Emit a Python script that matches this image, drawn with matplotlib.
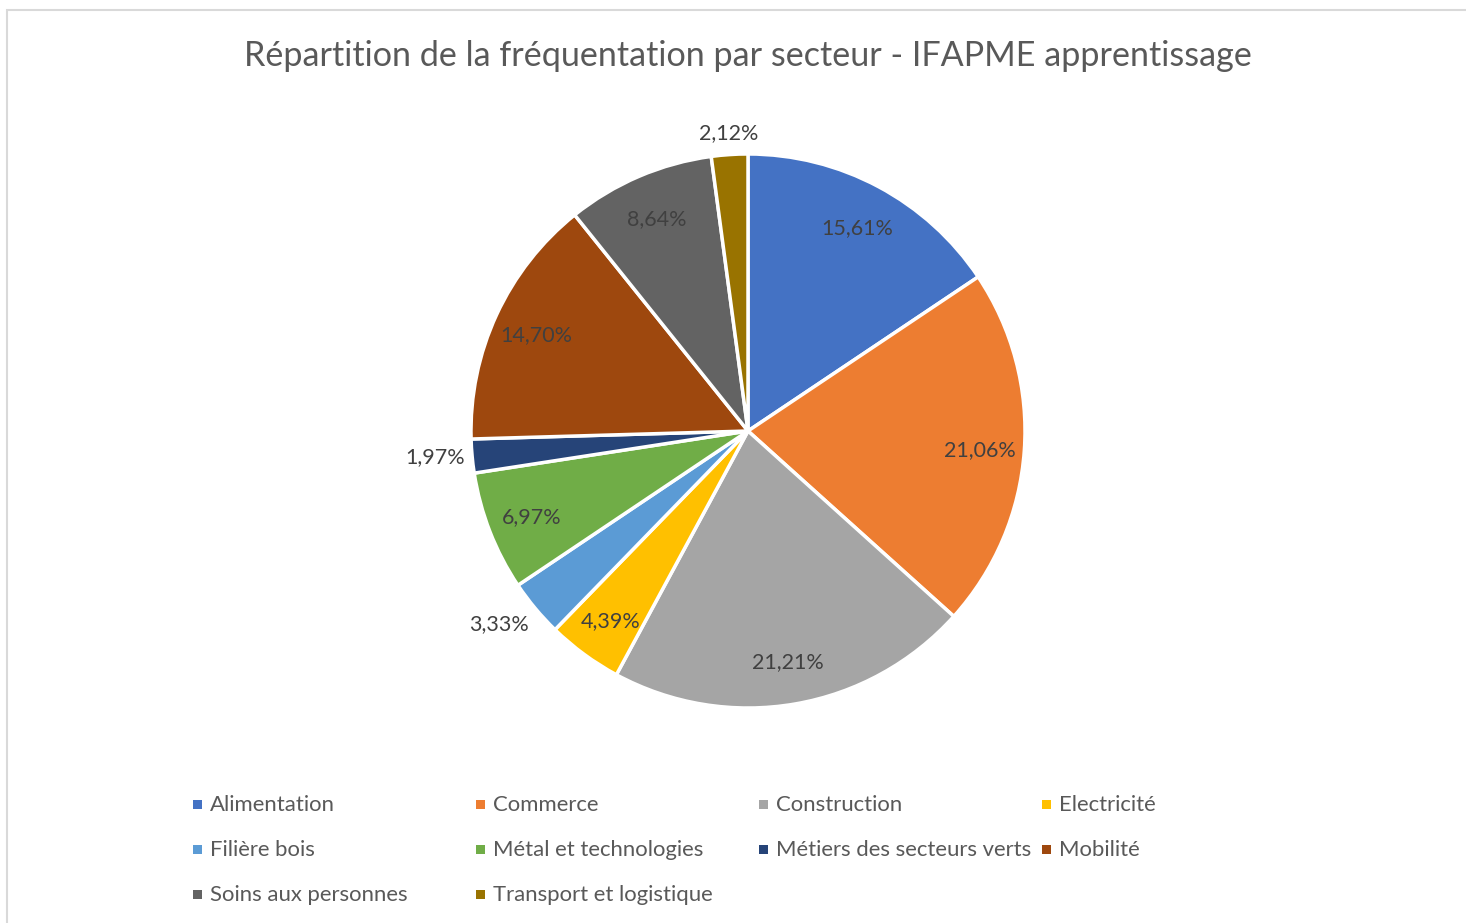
import matplotlib
matplotlib.use("Agg")
import matplotlib.pyplot as plt
import matplotlib.patches as mpatches
import numpy as np

plt.rcParams['font.family'] = ['Lato', 'DejaVu Sans']

title = "Répartition de la fréquentation par secteur - IFAPME apprentissage"
categories = ["Alimentation", "Commerce", "Construction", "Electricité", "Filière bois",
              "Métal et technologies", "Métiers des secteurs verts", "Mobilité",
              "Soins aux personnes", "Transport et logistique"]
values = [15.61, 21.06, 21.21, 4.39, 3.33, 6.97, 1.97, 14.70, 8.64, 2.12]
colors = ["#4472C4", "#ED7D31", "#A5A5A5", "#FFC000", "#5B9BD5",
          "#70AD47", "#264478", "#9E480E", "#636363", "#997300"]
outside = {"Filière bois": (1.03, 'right', 'top'),
           "Métiers des secteurs verts": (1.025, 'right', 'center'),
           "Transport et logistique": (1.04, 'center', 'bottom')}

W, H = 1466, 923
fig = plt.figure(figsize=(W / 100, H / 100), dpi=100)

# chart border
fig.add_artist(mpatches.Rectangle((7 / W, -0.1), 2, 1 - 10 / H + 0.1, transform=fig.transFigure,
                                  fill=False, edgecolor="#D9D9D9", linewidth=1.5))

fig.text(748 / W, 1 - 56 / H, title, ha='center', va='center', fontsize=24.6, color="#595959")

cx, cy, r = 748, 431, 277
ax = fig.add_axes([(cx - r) / W, (H - cy - r) / H, 2 * r / W, 2 * r / H])
wedges, _ = ax.pie(values, colors=colors, startangle=90, counterclock=False,
                   wedgeprops=dict(edgecolor='white', linewidth=2.5))
ax.set_xlim(-1, 1)
ax.set_ylim(-1, 1)
ax.axis('off')

for w, cat, v in zip(wedges, categories, values):
    ang = np.deg2rad((w.theta1 + w.theta2) / 2)
    lab = f"{v:.2f}%".replace('.', ',')
    if cat in outside:
        rr, ha, va = outside[cat]
    else:
        rr, ha, va = 0.84, 'center', 'center_baseline'
    ax.text(rr * np.cos(ang), rr * np.sin(ang), lab, ha=ha, va=va,
            fontsize=15.5, color="#404040", clip_on=False)

# legend
for i, (cat, c) in enumerate(zip(categories, colors)):
    col, row = i % 4, i // 4
    x0 = 193 + col * 283
    y0 = 804 + row * 45
    fig.add_artist(mpatches.Rectangle((x0 / W, (H - y0 - 4.5) / H), 9 / W, 9 / H,
                                      transform=fig.transFigure, facecolor=c, edgecolor='none'))
    fig.text((x0 + 17) / W, 1 - (y0 + 1) / H, cat, ha='left', va='center', fontsize=15.9, color="#595959")

fig.savefig("out.png", dpi=100)
